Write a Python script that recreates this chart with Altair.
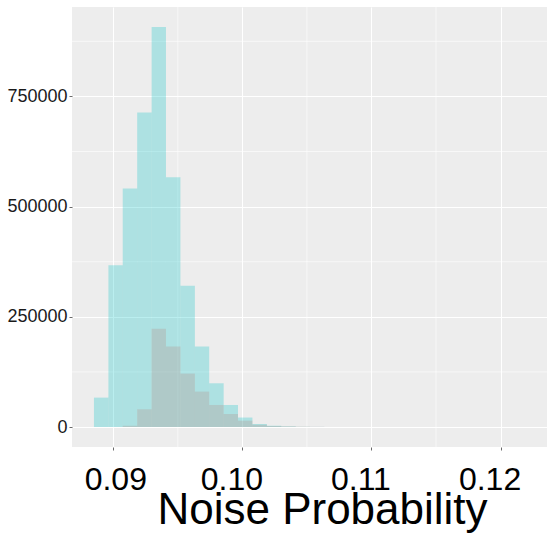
import altair as alt
import pandas as pd

# Histogram bin edges (Noise Probability)
bin_edges = [0.08850, 0.08962, 0.09073, 0.09185, 0.09297, 0.09408, 0.09520,
             0.09632, 0.09743, 0.09855, 0.09966, 0.10078, 0.10190, 0.10301,
             0.10413, 0.10524, 0.10636]

# Counts per bin for the two groups
cyan_counts = [66700, 366700, 540900, 713600, 907600, 566700, 320500, 182600,
               99200, 50000, 21500, 6800, 3000, 1500, 700, 300]
red_counts = [0, 0, 3000, 40200, 222700, 182600, 121200, 80300,
              50000, 29500, 14400, 5000, 2500, 1200, 500, 200]

x_ticks = [0.09, 0.10, 0.11, 0.12]
x_minor = [0.095, 0.105, 0.115]
y_ticks = [0, 250000, 500000, 750000]
y_minor = [125000, 375000, 625000, 875000]

def frame(counts):
    return pd.DataFrame({
        "start": bin_edges[:-1],
        "end": bin_edges[1:],
        "count": counts,
    })

x_scale = alt.Scale(domain=[0.0868, 0.1236], nice=False, zero=False)
y_scale = alt.Scale(domain=[-45375, 952875], nice=False, zero=False)

FONT = "Liberation Sans"

x_axis = alt.Axis(
    values=x_ticks, format=".2f", grid=True, gridColor="white", gridWidth=1.1,
    domain=False, ticks=True, tickColor="#444444", tickSize=3, tickWidth=0.8,
    labelFont=FONT, labelFontSize=32, labelColor="black", labelPadding=14,
    labelOffset={"condition": {"test": "datum.value < 0.095", "value": 2}, "value": -11},
    labelFlush=False,
    title="Noise Probability", titleFont=FONT, titleFontSize=44,
    titleFontWeight="normal", titleColor="black", titleX=250, titleY=76,
    titleAlign="center", titleBaseline="alphabetic",
)
y_axis = alt.Axis(
    values=y_ticks, format="d", grid=True, gridColor="white", gridWidth=1.1,
    domain=False, ticks=True, tickColor="#444444", tickSize=3, tickWidth=0.8,
    labelFont=FONT, labelFontSize=18, labelColor="#1a1a1a", labelPadding=2,
    title=None,
)

minor_v = alt.Chart(pd.DataFrame({"v": x_minor})).mark_rule(
    color="white", strokeWidth=0.6
).encode(x=alt.X("v:Q", scale=x_scale, axis=x_axis))

minor_h = alt.Chart(pd.DataFrame({"h": y_minor})).mark_rule(
    color="white", strokeWidth=0.6
).encode(y=alt.Y("h:Q", scale=y_scale, axis=y_axis))

red_bars = alt.Chart(frame(red_counts)).mark_rect(
    color="#F8766D", opacity=0.27
).encode(
    x=alt.X("start:Q", scale=x_scale, axis=x_axis),
    x2="end:Q",
    y=alt.Y("count:Q", scale=y_scale, axis=y_axis),
    y2=alt.datum(0),
)

cyan_bars = alt.Chart(frame(cyan_counts)).mark_rect(
    color="#00BFC4", opacity=0.27
).encode(
    x=alt.X("start:Q", scale=x_scale, axis=x_axis),
    x2="end:Q",
    y=alt.Y("count:Q", scale=y_scale, axis=y_axis),
    y2=alt.datum(0),
)

chart = alt.layer(minor_v, minor_h, red_bars, cyan_bars).properties(
    width=475, height=440,
    autosize=alt.AutoSizeParams(type="none"),
    padding={"left": 72, "top": 7, "right": 0, "bottom": 89},
    background="white",
).configure_view(fill="#EDEDED", stroke=None)

chart.save("out.html", embed_options={"renderer": "svg", "actions": False})
